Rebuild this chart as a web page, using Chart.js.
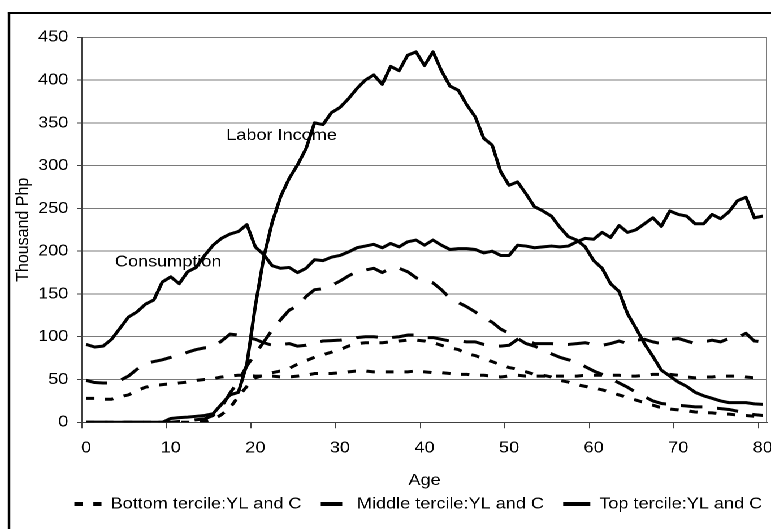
<!DOCTYPE html>
<html><head><meta charset="utf-8">
<script src="https://cdn.jsdelivr.net/npm/chart.js@4"></script>
<style>
html,body{margin:0;padding:0;background:#fff;overflow:hidden;width:771px;height:529px;}
#stage{position:absolute;left:0;top:0;width:682px;height:529px;transform:scaleX(1.1305);transform-origin:0 0;}
#frame{position:absolute;left:7.2px;top:12.3px;width:720px;height:600px;border-left:2px solid #000;border-top:2px solid #000;box-sizing:border-box;}
#c{position:absolute;left:0;top:0;width:682px;height:529px;}
</style></head><body>
<div id="stage"><div id="frame"></div><canvas id="c" width="682" height="529" style="width:682px;height:529px"></canvas></div>
<script>
// ---- data ----
const ages = [0,1,2,3,4,5,6,7,8,9,10,11,12,13,14,15,16,17,18,19,20,21,22,23,24,25,26,27,28,29,30,31,32,33,34,35,36,37,38,39,40,41,42,43,44,45,46,47,48,49,50,51,52,53,54,55,56,57,58,59,60,61,62,63,64,65,66,67,68,69,70,71,72,73,74,75,76,77,78,79,80];
const xTickAges = [0,10,20,30,40,50,60,70,80];
const yTickValues = [0,50,100,150,200,250,300,350,400,450];

const bottomYL = [0,0,0,0,0,0,0,0,0,0,
 0,0,0,0,1,3,9,17,30,42,
 52,55,58,60,63,68,72,76,79,82,
 85,89,92,93,93,93,94,95,96,96,
 95,93,90,87,85,80,78,74,71,67,
 64,62,59,56,55,53,49,47,44,42,
 40,38,35,32,29,26,23,20,17,15.5,
 14.5,13.5,12,11.5,11,10,9.5,8.5,8,7,
 6];
const bottomC = [28,28,27,27,30,32,37,41,43,44,
 45,46,47,49,50,51,53,54,55,55,
 54,54,54,53,53,54,55,57,57,57,
 58,59,60,60,59,59,59,59,59,60,
 59,58,58,57,56,56,55,55,54,53,
 54,55,54,54,54,54,54,54,54,55,
 55,55,55,55,54,54,55,56,56,56,
 55,53,52,53,53,54,54,54,53,52,
 52];
const middleYL = [0,0,0,0,0,0,0,0,0,0,
 0,1,2,3,4,8,18,34,48,66,
 80,94,108,120,131,136,147,155,156,160,
 165,171,176,178,180,175,180,180,176,169,
 165,163,155,145,140,135,129,122,117,109,
 104,98,92,89,85,80,76,73,71,65,
 60,56,51,46,41,35,30,25,22,21,
 20,19,18,18,17,16,15,13,10.5,9,
 8];
const middleC = [49,46.5,46,46,49,54,62,69,71,73,
 76,78,82,85,87,88,95,103,102,99,
 97,93,90,91,92,89,90,93,95,95.5,
 96,97,99,100,100,99,99,100,102,102,
 99,99,97,95,95,94,94,91,90,89,
 90,97,96,92,92,92,91,91,92,93,
 91,90,92,95,92,96,97,94,92,97,
 98,95,92,94,96,94,98,99,104,95,
 94];
const topYL = [0,0,0,0,0,0,0,0,0,0,
 4.5,5.5,6,7,8,10,21,32,35,68,
 136,193,234,264,285,301,320,350,348,362,
 368,378,390,400,406,395,416,411,429,433,
 417,433,411,393,388,371,357,332,324,293,
 277,281,267,252,247,241,228,217,213,205,
 189,180,162,153,127,110,92,77,61,54,
 47,42,35,31,28,25,23,23,23,21.5,
 21];
const topC = [91,88,89,97,110,123,129,138,143,164,
 170,162,176,181,195,207,215,220,223,231,
 205,196,183,180,181,175,180,190,189,193,
 195,199,204,206,208,204,209,205,211,213,
 207,213,207,202,203,203,202,198,200,195,
 195,207,206,204,205,206,205,206,211,215,
 214,222,216,230,222,225,232,239,229,247,
 243,241,232,232,243,238,246,259,263,239,
 241];

const seriesNames = ['Bottom tercile:YL and C','Middle tercile:YL and C','Top tercile:YL and C'];
const notes = [
  {text:'Labor Income', age:23.1, value:335},
  {text:'Consumption', age:9.7, value:187}
];

// ---- styles ----
const FONT = "'Liberation Sans', Arial, sans-serif";
const gridColor = '#7a7a7a';
const axisColor = '#404040';
const dashes = [[7.3, 9.5], [19, 13], []];

Chart.defaults.font.family = FONT;
Chart.defaults.font.size = 16;
Chart.defaults.color = '#000';

function ds(label, data, t) {
  return {label, data, borderColor:'#000', backgroundColor:'#000', borderWidth:3,
    borderDash:dashes[t], borderCapStyle:'butt', borderJoinStyle:'round',
    pointRadius:0, pointHoverRadius:0, pointStyle:'line', tension:0, fill:false};
}

const framePlugin = {
  id:'frame',
  beforeDatasetsDraw(chart){
    const {ctx, chartArea:a} = chart;
    ctx.save();
    ctx.strokeStyle = gridColor; ctx.lineWidth = 1;
    ctx.beginPath(); ctx.moveTo(a.right - 0.5, a.top); ctx.lineTo(a.right - 0.5, a.bottom); ctx.stroke();
    ctx.restore();
  }
};
const notePlugin = {
  id:'notes',
  afterDatasetsDraw(chart){
    const {ctx, scales:{x, y}} = chart;
    ctx.save();
    ctx.font = '16px ' + FONT; ctx.fillStyle = '#000';
    ctx.textAlign = 'center'; ctx.textBaseline = 'middle';
    notes.forEach(n => ctx.fillText(n.text, x.getPixelForValue(n.age), y.getPixelForValue(n.value)));
    ctx.restore();
  }
};
const legendCenterX = 370;
const legendShift = {
  id:'legendShift',
  afterLayout(chart){
    const lg = chart.legend; if (!lg) return;
    const d = legendCenterX - (lg.left + lg.right) / 2;
    lg.left += d; lg.right += d;
  }
};

new Chart(document.getElementById('c'), {
  type:'line',
  data:{
    labels: ages,
    datasets:[
      ds(seriesNames[0], bottomYL, 0), ds(seriesNames[0], bottomC, 0),
      ds(seriesNames[1], middleYL, 1), ds(seriesNames[1], middleC, 1),
      ds(seriesNames[2], topYL, 2), ds(seriesNames[2], topC, 2)
    ]
  },
  options:{
    responsive:false, animation:false, devicePixelRatio:2,
    layout:{padding:{left:8, top:37.3, right:3.5, bottom:7}},
    plugins:{
      tooltip:{enabled:false},
      legend:{
        position:'bottom',
        labels:{
          usePointStyle:true, pointStyleWidth:24, boxHeight:4, padding:17,
          color:'#000', font:{size:16, family:FONT},
          generateLabels:(chart) => seriesNames.map((name, t) => ({
            text:name, fillStyle:'#000', strokeStyle:'#000', lineWidth:4,
            lineDash:dashes[t], lineCap:'butt', pointStyle:'line', hidden:false,
            datasetIndex:t*2, fontColor:'#000'
          }))
        }
      }
    },
    scales:{
      x:{
        type:'category', offset:true,
        grid:{display:true, offset:true, drawOnChartArea:false, drawTicks:true, tickLength:6,
          tickWidth:1, tickColor:(c) => (c.index % 10 === 0 ? axisColor : 'rgba(0,0,0,0)')},
        border:{display:true, color:axisColor, width:1},
        ticks:{autoSkip:false, maxRotation:0, minRotation:0, padding:10, color:'#000',
          font:{size:16, family:FONT},
          callback:(v, i) => (xTickAges.includes(ages[i]) ? String(ages[i]) : '')},
        title:{display:true, text:'Age', color:'#000', font:{size:16, family:FONT}, padding:{top:0, bottom:-11}},
        afterFit:(s) => { s.height = 56.7; s.paddingLeft = 0; s.paddingRight = 0; }
      },
      y:{
        min:0, max:450,
        afterBuildTicks:(s) => { s.ticks = yTickValues.map(v => ({value:v})); },
        ticks:{padding:7.7, color:'#000', font:{size:16, family:FONT}},
        grid:{color:gridColor, lineWidth:1, tickLength:4.4, tickColor:axisColor, drawTicks:true},
        border:{display:true, color:axisColor, width:1},
        title:{display:true, text:'Thousand Php', color:'#000', font:{size:16, family:FONT}, padding:{top:3.2, bottom:0}},
        afterFit:(s) => { s.width = 64.5; }
      }
    }
  },
  plugins:[framePlugin, notePlugin, legendShift]
});
</script>
</body></html>
